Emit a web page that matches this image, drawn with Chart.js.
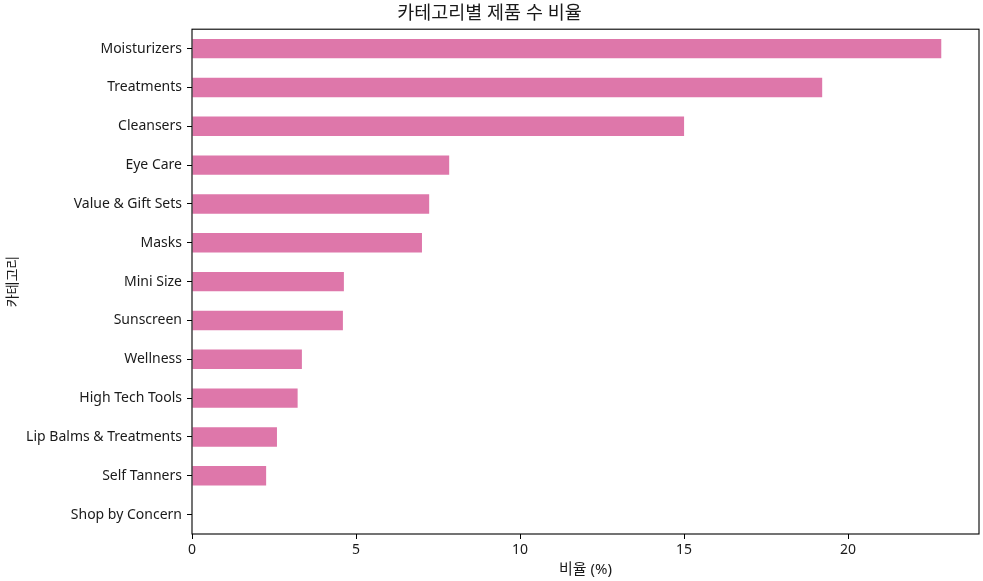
<!DOCTYPE html>
<html lang="ko">
  <head>
    <meta charset="utf-8">
    <title>카테고리별 제품 수 비율</title>
    <style>
      html, body {
        margin: 0;
        padding: 0;
        background: #fff;
      }
      .chart-box {
        width: 983px;
        height: 581px;
      }
    </style>
    <script src="https://cdn.jsdelivr.net/npm/chart.js@4.4.4/dist/chart.umd.min.js"></script>
  </head>
  <body>
    <div class="chart-box">
      <canvas id="ratio-plot"></canvas>
    </div>
    <script>
      const categories = [
        'Moisturizers', 'Treatments', 'Cleansers', 'Eye Care', 'Value & Gift Sets',
        'Masks', 'Mini Size', 'Sunscreen', 'Wellness', 'High Tech Tools',
        'Lip Balms & Treatments', 'Self Tanners', 'Shop by Concern'
      ];
      const ratio_values = [
        22.84, 19.21, 15.0, 7.84, 7.23,
        7.01, 4.63, 4.60, 3.35, 3.22,
        2.59, 2.26, 0
      ];
      const x_ticks = [0, 5, 10, 15, 20];

      const font_family = '"Noto Sans", "Noto Sans CJK KR", sans-serif';
      const text_color = '#1a1a1a';

      // matplotlib-style box round the plot area
      const frame_plugin = {
        id: 'frame',
        afterDraw(chart) {
          const {ctx, chartArea} = chart;
          ctx.save();
          ctx.strokeStyle = '#000';
          ctx.lineWidth = 1.1;
          ctx.strokeRect(chartArea.left, chartArea.top,
            chartArea.right - chartArea.left, chartArea.bottom - chartArea.top);
          ctx.restore();
        }
      };

      const plot = new Chart(document.getElementById('ratio-plot'), {
        type: 'bar',
        data: {
          labels: categories,
          datasets: [{
            label: '비율 (%)',
            data: ratio_values,
            backgroundColor: '#de77aa',
            borderWidth: 0,
            categoryPercentage: 1.0,
            barPercentage: 0.5
          }]
        },
        options: {
          indexAxis: 'y',
          responsive: true,
          maintainAspectRatio: false,
          animation: false,
          layout: {
            padding: {left: 0, right: 4, top: 0, bottom: 0}
          },
          plugins: {
            legend: {display: false},
            tooltip: {enabled: false},
            title: {
              display: true,
              text: '카테고리별 제품 수 비율',
              color: text_color,
              font: {family: font_family, size: 18.5, weight: 'normal', lineHeight: 1.2},
              padding: {top: 3, bottom: 4}
            }
          },
          scales: {
            x: {
              type: 'linear',
              min: 0,
              max: 23.99,
              afterBuildTicks: function(scale) {
                scale.ticks = x_ticks.map(v => ({value: v}));
              },
              afterFit: function(scale) {
                scale.height = 47;
              },
              grid: {
                drawOnChartArea: false,
                drawTicks: true,
                tickLength: 5,
                color: '#000'
              },
              border: {display: false},
              ticks: {
                color: text_color,
                padding: 3,
                font: {family: font_family, size: 14}
              },
              title: {
                display: true,
                text: '비율 (%)',
                color: text_color,
                font: {family: font_family, size: 15, lineHeight: 1.2},
                padding: {top: 0, bottom: 2}
              }
            },
            y: {
              type: 'category',
              offset: true,
              afterFit: function(scale) {
                scale.width = 192;
              },
              grid: {
                offset: false,
                drawOnChartArea: false,
                drawTicks: true,
                tickLength: 5,
                color: '#000'
              },
              border: {display: false},
              ticks: {
                color: text_color,
                padding: 5,
                autoSkip: false,
                font: {family: font_family, size: 14}
              },
              title: {
                display: true,
                text: '카테고리',
                color: text_color,
                font: {family: font_family, size: 14, lineHeight: 1.2},
                padding: {top: 5, bottom: 0}
              }
            }
          }
        },
        plugins: [frame_plugin]
      });
    </script>
  </body>
</html>
